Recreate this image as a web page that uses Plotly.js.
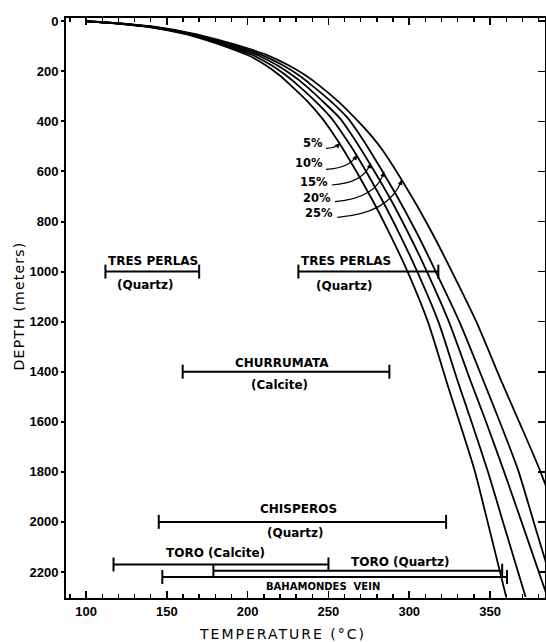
<!DOCTYPE html>
<html>
<head>
<meta charset="utf-8">
<script src="https://cdn.plot.ly/plotly-3.0.1.min.js"></script>
<style>
html,body{margin:0;padding:0;background:#fff;}
#chart{width:546px;height:642px;}
.annotation[data-index="0"] text{letter-spacing:2px;}
.annotation[data-index="1"] text{letter-spacing:1.2px;}
</style>
</head>
<body>
<div id="chart"></div>
<script>
// ---- data ----
const depthPts = [0, 10, 25, 50, 75, 100, 135, 175, 215, 255, 320, 387, 450, 515, 700, 850, 1008, 1200, 1438, 1600, 1796, 2000, 2300];
const t05 = [100, 121, 141, 161, 174.5, 186, 200, 211, 219.5, 226.5, 237, 246, 253, 259.5, 276, 288, 299.5, 311.5, 323, 331, 340.5, 348.5, 360];
const t10 = [100, 121.5, 142, 162.5, 176.5, 188.5, 203, 214.5, 223.5, 231, 242, 251.8, 258.8, 265.5, 282, 294, 305.5, 318, 330, 338.5, 348.5, 358, 372];
const t15 = [100, 122, 143, 164, 178.5, 191, 206, 218, 227.5, 235.5, 246.5, 257, 264, 270.5, 287.5, 299.7, 311.5, 324.5, 338, 347.5, 358.5, 369.5, 385.5];
const t20 = [100, 122.5, 144, 165.5, 180.5, 193.5, 209, 221.5, 231.5, 239.5, 251.5, 262, 269, 275.5, 292.5, 305, 317, 331, 346, 356, 367.5, 377, 391];
const t25 = [100, 123, 145, 167, 182.5, 196, 212, 225, 235.5, 244, 256, 266.5, 275.5, 283.5, 301.5, 314.5, 327, 341.5, 357, 368, 381, 392.5, 408];
const curveNames = ['5%', '10%', '15%', '20%', '25%'];

const rangeNames = ['TRES PERLAS (Quartz)', 'TRES PERLAS (Quartz)', 'CHURRUMATA (Calcite)', 'CHISPEROS (Quartz)', 'TORO (Calcite)', 'TORO (Quartz)', 'BAHAMONDES VEIN'];
const rangeDepth = [1000, 1000, 1400, 2000, 2170, 2195, 2220];
const rangeTmin = [112, 231.4, 159.8, 145, 117, 178.8, 147.2];
const rangeTmax = [170, 318, 287.7, 322.8, 250, 357.5, 360.5];

const xTicks = [100, 150, 200, 250, 300, 350];
const yTicks = [0, 200, 400, 600, 800, 1000, 1200, 1400, 1600, 1800, 2000, 2200];

// ---- layout geometry ----
const XR = [87.6, 384], YR = [2304, -13];
const PL = 66, PR = 545, PT = 18, PB = 598;
const tx = px => XR[0] + (px - PL) * (XR[1] - XR[0]) / (PR - PL);
const dy = py => YR[1] + (py - PT) * (YR[0] - YR[1]) / (PB - PT);
const xp = px => (px - PL) / (PR - PL);
const yp = py => (PB - py) / (PB - PT);

const FONT = 'DejaVu Sans';
const traces = [];
[t05, t10, t15, t20, t25].forEach((t, i) => {
  traces.push({
    x: t, y: depthPts, name: curveNames[i], mode: 'lines', type: 'scatter',
    line: {color: '#000', width: 1.8, shape: 'spline', smoothing: 0.7},
    showlegend: false, hoverinfo: 'skip'
  });
});
rangeNames.forEach((n, i) => {
  traces.push({
    x: [rangeTmin[i], rangeTmax[i]], y: [rangeDepth[i], rangeDepth[i]], name: n,
    mode: 'lines+markers', type: 'scatter',
    line: {color: '#000', width: 2},
    marker: {symbol: 'line-ns', size: 10, color: '#000', line: {color: '#000', width: 2}},
    showlegend: false, hoverinfo: 'skip'
  });
});
// empty traces registering the mirrored tick axes (top and right)
traces.push({x: [], y: [], xaxis: 'x', yaxis: 'y2', mode: 'lines', showlegend: false, hoverinfo: 'skip'});
traces.push({x: [], y: [], xaxis: 'x2', yaxis: 'y', mode: 'lines', showlegend: false, hoverinfo: 'skip'});

function lab(text, px, py, size, anchor, weight) {
  return {x: tx(px), y: dy(py), xref: 'x', yref: 'y', text: text, showarrow: false,
    xanchor: anchor || 'center', yanchor: 'middle',
    font: {family: FONT, size: size, color: '#000', weight: weight || 'bold'}};
}

const annotations = [
  {x: xp(282), y: yp(634), xref: 'paper', yref: 'paper', text: 'TEMPERATURE (°C)', showarrow: false,
   xanchor: 'center', yanchor: 'middle', font: {family: FONT, size: 14, color: '#000'}},
  {x: xp(19), y: yp(306), xref: 'paper', yref: 'paper', text: 'DEPTH (meters)', showarrow: false,
   textangle: -90, xanchor: 'center', yanchor: 'middle', font: {family: FONT, size: 14, color: '#000'}},
  lab('TRES PERLAS', 152.5, 261, 12),
  lab('(Quartz)', 145, 285, 12),
  lab('TRES PERLAS', 346, 261, 12),
  lab('(Quartz)', 344, 286, 12),
  lab('CHURRUMATA', 282, 363, 12),
  lab('(Calcite)', 279, 385, 12),
  lab('CHISPEROS', 298.3, 508.5, 12),
  lab('(Quartz)', 294.7, 532.5, 12),
  lab('TORO (Calcite)', 215.8, 552.5, 12),
  lab('TORO (Quartz)', 400, 562, 12),
  lab('BAHAMONDES  VEIN', 322.5, 586.5, 10),
  lab('5%', 325, 143.3, 11.5, 'right'),
  lab('10%', 325, 163.3, 11.5, 'right'),
  lab('15%', 330, 181.7, 11.5, 'right'),
  lab('20%', 333.3, 197.7, 11.5, 'right'),
  lab('25%', 335, 213.3, 11.5, 'right')
];

// curved leaders from the percent labels to the curves
const leaders = [
  [[326, 148.3], [335, 148.3], [340, 143.3]],
  [[326, 169.3], [350, 168.3], [356.7, 155]],
  [[331.7, 185], [363.3, 183.3], [370.7, 163.3]],
  [[335, 201.7], [376.7, 198.3], [384, 171.7]],
  [[337.3, 217.3], [390, 213.3], [401.7, 180]]
];
const shapes = leaders.map(L => ({
  type: 'path', xref: 'x', yref: 'y',
  path: 'M ' + tx(L[0][0]) + ',' + dy(L[0][1]) + ' Q ' + tx(L[1][0]) + ',' + dy(L[1][1]) + ' ' + tx(L[2][0]) + ',' + dy(L[2][1]),
  line: {color: '#000', width: 1.2}
}));
leaders.forEach(L => {
  const vx = L[1][0] - L[2][0], vy = L[1][1] - L[2][1];
  const len = Math.hypot(vx, vy) || 1;
  annotations.push({x: tx(L[2][0]), y: dy(L[2][1]), xref: 'x', yref: 'y', text: '',
    showarrow: true, ax: vx / len * 6, ay: vy / len * 6, arrowhead: 2, arrowsize: 0.9,
    arrowwidth: 1.1, arrowcolor: '#000', standoff: 0});
});

const xCommon = {
  range: XR, tickvals: xTicks,
  ticks: 'inside', ticklen: 7, tickwidth: 1.6, tickcolor: '#000',
  minor: {dtick: 10, tick0: 0, ticks: 'inside', ticklen: 4, tickwidth: 1.4, tickcolor: '#000', showgrid: false},
  showgrid: false, zeroline: false, fixedrange: true
};

const layout = {
  width: 546, height: 642,
  margin: {l: PL, r: 546 - PR, t: PT, b: 642 - PB, pad: 0},
  paper_bgcolor: '#fff', plot_bgcolor: '#fff',
  showlegend: false,
  xaxis: Object.assign({}, xCommon, {
    ticktext: xTicks.map(String),
    showline: true, linewidth: 2, linecolor: '#000', mirror: true,
    tickfont: {family: 'Liberation Sans', size: 13, color: '#000', weight: 'bold'}
  }),
  xaxis2: Object.assign({}, xCommon, {
    overlaying: 'x', side: 'top', showticklabels: false, showline: false
  }),
  yaxis: {
    range: YR, tickvals: yTicks, ticktext: yTicks.map(String),
    ticks: 'outside', ticklen: 3, tickwidth: 2, tickcolor: '#000',
    showline: true, linewidth: 2, linecolor: '#000', mirror: true,
    showgrid: false, zeroline: false, fixedrange: true,
    tickfont: {family: 'Liberation Sans', size: 13, color: '#000', weight: 'bold'}
  },
  yaxis2: {
    overlaying: 'y', side: 'right', range: YR, tickvals: yTicks,
    ticks: 'inside', ticklen: 7, tickwidth: 1.6, tickcolor: '#000',
    showticklabels: false, showline: false, showgrid: false, zeroline: false, fixedrange: true
  },
  annotations: annotations,
  shapes: shapes
};

Plotly.newPlot('chart', traces, layout, {staticPlot: true, displayModeBar: false});
</script>
</body>
</html>
